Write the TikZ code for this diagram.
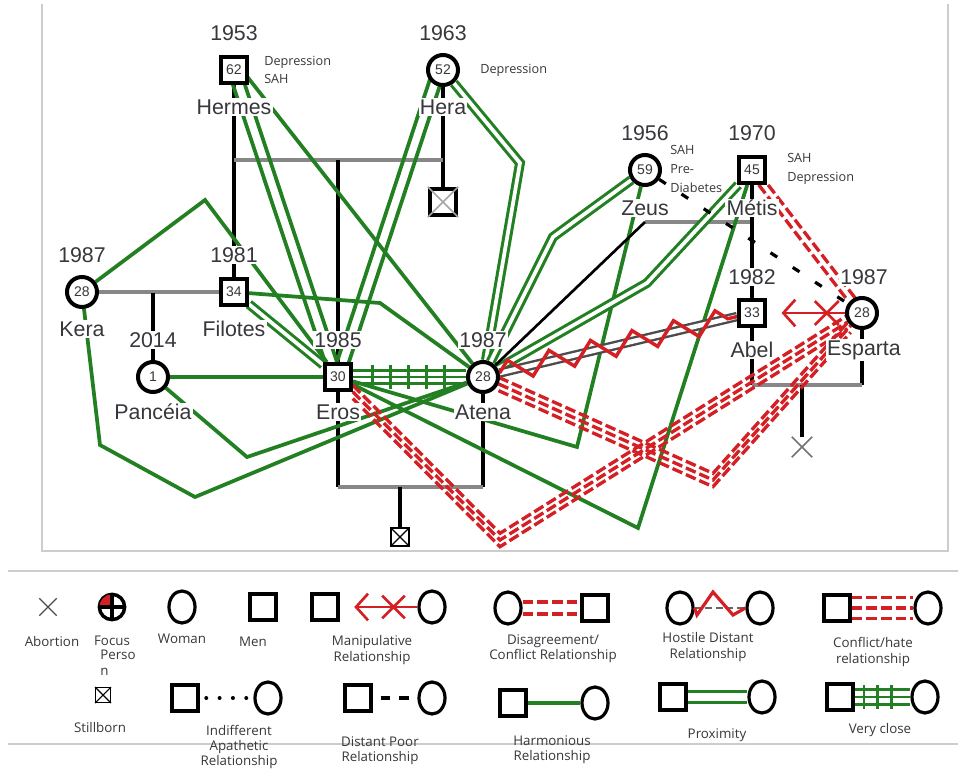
\documentclass[tikz,border=0pt]{standalone}
\usepackage{fontspec}
\setmainfont{Liberation Sans}
\newfontfamily\notefont{Open Sans}
\usetikzlibrary{calc,decorations.markings,decorations.pathmorphing,arrows.meta,shapes.geometric,shapes.misc}
\definecolor{relgreen}{RGB}{34,128,34}
\definecolor{relred}{RGB}{212,32,36}
\definecolor{inkgray}{RGB}{55,55,60}
\definecolor{kingray}{RGB}{135,135,135}
\definecolor{framegray}{RGB}{205,205,205}
\pgfdeclarelayer{links}
\pgfsetlayers{links,main}
\tikzset{
  man/.style={draw,line width=2.8pt,fill=white,minimum size=19.5pt,inner sep=0pt,
    text=inkgray,font=\fontsize{10.5}{10.5}\selectfont},
  woman/.style={circle,draw,line width=3pt,fill=white,minimum size=22.5pt,inner sep=0pt,
    text=inkgray,font=\fontsize{10.5}{10.5}\selectfont},
  lost/.style={draw,fill=white,inner sep=0pt},
  yr/.style={fill=white,inner sep=1pt,text=inkgray,font=\fontsize{16}{18}\selectfont},
  note/.style={anchor=west,align=left,inner sep=0pt,text=inkgray,
    font=\notefont\fontsize{9.5}{14}\selectfont},
  kin/.style={line width=2.9pt},
  marr/.style={kingray,line width=2.9pt},
  harm/.style={relgreen,line width=2.8pt},
  prox/.style={relgreen,line width=2.3pt,double=white,double distance=2.8pt},
  vclose/.style={relgreen,line width=2.1pt,double=white,double distance=8pt},
  vticks/.style={decoration={markings,
      mark=between positions 0.17 and 0.85 step #1 with {\draw[relgreen,line width=2.1pt] (0,-9pt) -- (0,9pt);}},
    postaction={decorate}},
  conflict/.style={relred,line width=2.5pt,dash pattern=on 8pt off 3pt},
  distant/.style={black,line width=2.4pt,dash pattern=on 6pt off 14pt},
  hostbase/.style={black!70,line width=1.8pt,double=white,double distance=3.5pt},
  hostile/.style={relred,line width=2.6pt,decorate,decoration={zigzag,segment length=32pt,amplitude=8pt}},
  manip/.style={relred,line width=2pt,arrows={Straight Barb[length=9pt,width=20pt]-},shorten <=11pt},
  manx/.style={cross out,draw=relred,line width=2pt,minimum size=16pt,inner sep=0pt},
  lman/.style={draw,line width=2.4pt,minimum size=19.5pt,inner sep=0pt},
  lwoman/.style={ellipse,draw,line width=2.4pt,minimum width=19.5pt,minimum height=24pt,inner sep=0pt},
  lgd/.style={align=center,inner sep=0pt,text=inkgray,font=\notefont\fontsize{10}{11.5}\selectfont}
}

\begin{document}
\begin{tikzpicture}[x=0.75pt,y=-0.75pt]
  \useasboundingbox (0,0) rectangle (958,771);
  %
  % Frame of the genogram
  \draw[framegray,line width=1pt] (42,4) -- (42,551) -- (948,551) -- (948,4);
  %
  % People
  \node[man]   (hermes)  at (234,70)  {62};
  \node[woman] (hera)    at (443,70)  {52};
  \node[woman] (kera)    at (82,292)  {28};
  \node[man]   (filotes) at (234,292) {34};
  \node[woman] (panceia) at (153,377) {1};
  \node[man]   (eros)    at (338,377) {30};
  \node[woman] (atena)   at (483,377) {28};
  \node[woman] (zeus)    at (645,170) {59};
  \node[man]   (metis)   at (752,170) {45};
  \node[man]   (abel)    at (752,313) {33};
  \node[woman] (esparta) at (862,313) {28};
  \node[lost,line width=2.8pt,minimum size=20pt] (still1) at (443,202) {};
  \node[lost,line width=1.3pt,minimum size=13pt] (still2) at (400,537) {};
  \node[cross out,draw=black!55,line width=1.3pt,minimum size=14pt,inner sep=0pt] (abort) at (802,447) {};
  \draw[black!35,line width=1.2pt] (still1.north west) -- (still1.south east) (still1.north east) -- (still1.south west);
  \draw[line width=1pt] (still2.north west) -- (still2.south east) (still2.north east) -- (still2.south west);
  %
  % Years and names
  \node[yr] (hermes-y)  at ($(hermes)+(0,-37)$)  {1953};
  \node[yr] (hermes-n)  at ($(hermes)+(0,37)$)   {Hermes};
  \node[yr] (hera-y)    at ($(hera)+(0,-37)$)    {1963};
  \node[yr] (hera-n)    at ($(hera)+(0,37)$)     {Hera};
  \node[yr] (kera-y)    at ($(kera)+(0,-37)$)    {1987};
  \node[yr] (kera-n)    at ($(kera)+(0,37)$)     {Kera};
  \node[yr] (filotes-y) at ($(filotes)+(0,-37)$) {1981};
  \node[yr] (filotes-n) at ($(filotes)+(0,37)$)  {Filotes};
  \node[yr] (panceia-y) at ($(panceia)+(0,-37)$) {2014};
  \node[yr] (panceia-n) at ($(panceia)+(0,35)$)  {Pancéia};
  \node[yr] (eros-y)    at ($(eros)+(0,-37)$)    {1985};
  \node[yr] (eros-n)    at ($(eros)+(0,35)$)     {Eros};
  \node[yr] (atena-y)   at ($(atena)+(0,-37)$)   {1987};
  \node[yr] (atena-n)   at ($(atena)+(0,35)$)    {Atena};
  \node[yr] (zeus-y)    at ($(zeus)+(0,-37)$)    {1956};
  \node[yr] (zeus-n)    at ($(zeus)+(0,38)$)     {Zeus};
  \node[yr] (metis-y)   at ($(metis)+(0,-37)$)   {1970};
  \node[yr] (metis-n)   at ($(metis)+(0,38)$)    {Métis};
  \node[yr] (abel-y)    at ($(abel)+(0,-36)$)    {1982};
  \node[yr] (abel-n)    at ($(abel)+(0,37)$)     {Abel};
  \node[yr] (esparta-y) at ($(esparta)+(2,-36)$) {1987};
  \node[yr] (esparta-n) at ($(esparta)+(2,37)$)  {Esparta};
  %
  % Health notes
  \node[note] (hermes-d)  at (264,70)  {Depression\\SAH};
  \node[note] (hera-d)    at (480,70)  {Depression};
  \node[note] (zeus-d)    at (670,169) {SAH\\Pre-\\Diabetes};
  \node[note] (metis-d)   at (787,169) {SAH\\Depression};
  %
  \coordinate (hh) at (338,160);
  \coordinate (kf) at (153,293);
  \coordinate (ea) at (400,487);
  \coordinate (zm) at (700,222);
  \coordinate (ae) at (802,385);
  %
  \begin{pgfonlayer}{links}
    % Family lines
    \draw[kin] (hermes) -- (filotes);
    \draw[kin] (hera) -- (still1);
    \draw[marr] (hermes |- hh) -- (hera |- hh);
    \draw[kin] (hh) -- (eros);
    \draw[marr] (kera) -- (filotes);
    \draw[kin] (kf) -- (panceia);
    \draw[kin] (eros) -- (eros |- ea);
    \draw[kin] (atena) -- (atena |- ea);
    \draw[marr] (eros |- ea) -- (atena |- ea);
    \draw[kin] (ea) -- (still2);
    \draw[marr] (zeus |- zm) -- (metis |- zm);
    \draw[kin] (metis) -- (abel);
    \draw[kin] (abel) -- (abel |- ae);
    \draw[kin] (esparta) -- (esparta |- ae);
    \draw[marr] (abel |- ae) -- (esparta |- ae);
    \draw[kin] (ae) -- (abort);
    %
    % Very close
    \draw[vclose] (eros) -- (atena);
    \draw[harm,line width=2.1pt,vticks=0.16] (eros) -- (atena);
    %
    % Harmonious and proximity
    \draw[harm] (kera) -- (205,200) -- (eros);
    \draw[harm] (kera) -- (100,445) -- (195,497) -- (atena);
    \draw[harm] (panceia) -- (eros);
    \draw[harm] (panceia) -- (247,457) -- (atena);
    \draw[harm] ($(hermes)+(-6,0)$) -- ($(eros)+(-8,0)$);
    \draw[harm] ($(hermes)+(6,0)$) -- ($(eros)+(4,0)$);
    \draw[harm] ($(hermes)+(8,0)$) -- (atena);
    \draw[harm] ($(hera)+(-10,0)$) -- ($(eros)+(-6,0)$);
    \draw[harm] ($(hera)+(2,0)$) -- ($(eros)+(6,0)$);
    \draw[prox] (hera) -- (520,163) -- (atena);
    \draw[prox] (filotes) -- (eros);
    \draw[harm] (filotes) -- (380,303) -- (atena);
    \draw[harm] (eros) -- (577,447) -- (zeus);
    \draw[harm] (eros) -- (638,528) -- (metis);
    \draw[prox] (atena) -- (553,237) -- (zeus);
    \draw[prox] (atena) -- (647,283) -- (metis);
    \draw[black,line width=2pt] (atena) -- (zeus |- zm);
    %
    % Hostile distant
    \draw[hostbase] (atena) -- (abel);
    \draw[hostile] (atena) -- (abel);
    %
    % Conflict and disagreement
    \foreach \s in {-5,0,5}{
      \draw[conflict,transform canvas={yshift=\s*1pt}] (eros) -- (500,540) -- (esparta);
      \draw[conflict,transform canvas={yshift=\s*1pt}] (atena) -- (713,480) -- (esparta);
    }
    \foreach \s in {-3.5,3.5}
      \draw[conflict,transform canvas={xshift=\s*1pt}] (metis) -- (esparta);
    \draw[distant] (zeus) -- (esparta);
  \end{pgfonlayer}
  %
  % Manipulative
  \draw[manip] (abel) -- (esparta);
  \node[manx] (mx) at ($(abel)!0.68!(esparta)$) {};
  %
  % Legend
  \draw[framegray,line width=1.2pt] (8,571) -- (958,571);
  \draw[framegray,line width=1.2pt] (8,744) -- (958,744);
  %
  \node[cross out,draw=black!70,line width=1pt,minimum size=12pt,inner sep=0pt] (lg-abort) at (48,607) {};
  \node[lgd] (lg-abort-t) at (52,641) {Abortion};
  %
  \node[circle,draw,line width=2.6pt,minimum size=19pt,inner sep=0pt] (lg-focus) at (112,607) {};
  \fill[relred] (lg-focus.center) -- ++(-12.6,0) arc[start angle=180,end angle=90,radius=9.5pt] -- cycle;
  \draw[line width=2.4pt] (lg-focus.north) -- (lg-focus.south) (lg-focus.west) -- (lg-focus.east);
  \node[lgd] (lg-focus-t) at (112,641) {Focus};
  \node[lgd,align=left,anchor=north west] (lg-focus-t2) at (100,650) {Perso\\n};
  %
  \node[lwoman] (lg-woman) at (182,607) {};
  \node[lgd] (lg-woman-t) at (182,639) {Woman};
  \node[lman] (lg-man) at (263,607) {};
  \node[lgd] (lg-man-t) at (253,642) {Men};
  %
  \node[lman] (lg-m1) at (325,607) {};
  \node[lwoman] (lg-m2) at (432,607) {};
  \draw[manip] (lg-m1) -- (lg-m2);
  \node[manx,minimum size=15pt] (lg-mx) at ($(lg-m1)!0.64!(lg-m2)$) {};
  \node[lgd] (lg-m-t) at (372,650) {Manipulative\\Relationship};
  %
  \node[lwoman] (lg-d1) at (508,608) {};
  \node[lman] (lg-d2) at (595,608) {};
  \foreach \s in {-4.5,4.5}
    \draw[conflict,transform canvas={yshift=\s*1pt}] (lg-d1) -- (lg-d2);
  \node[lgd] (lg-d-t) at (553,649) {Disagreement/\\Conflict Relationship};
  %
  \node[lwoman] (lg-h1) at (680,608) {};
  \node[lwoman] (lg-h2) at (760,608) {};
  \draw[black!60,line width=1.6pt,dash pattern=on 5pt off 3pt] (lg-h1) -- (lg-h2);
  \draw[relred,line width=2.4pt] (lg-h1.east) -- (697,615) -- (713,592) -- (733,615) -- (lg-h2.west);
  \node[lgd] (lg-h-t) at (708,647) {Hostile Distant\\Relationship};
  %
  \node[lman] (lg-c1) at (837,608) {};
  \node[lwoman] (lg-c2) at (928,608) {};
  \foreach \s in {-8,0,8}
    \draw[conflict,transform canvas={yshift=\s*1pt}] (lg-c1) -- (lg-c2);
  \node[lgd] (lg-c-t) at (873,652) {Conflict/hate\\relationship};
  %
  \node[draw,line width=1pt,minimum size=11pt,inner sep=0pt] (lg-still) at (103,695) {};
  \draw[line width=0.8pt] (lg-still.north west) -- (lg-still.south east) (lg-still.north east) -- (lg-still.south west);
  \node[lgd] (lg-still-t) at (100,727) {Stillborn};
  %
  \node[lman] (lg-i1) at (185,698) {};
  \node[lwoman] (lg-i2) at (268,698) {};
  \draw[line width=3pt,line cap=round,dash pattern=on 0pt off 10pt,dash phase=-5pt] (lg-i1) -- (lg-i2);
  \node[lgd] (lg-i-t) at (239,747) {Indifferent\\Apathetic\\Relationship};
  %
  \node[lman] (lg-p1) at (358,698) {};
  \node[lwoman] (lg-p2) at (432,698) {};
  \draw[line width=2.4pt,dash pattern=on 7pt off 7pt,dash phase=-6pt] (lg-p1) -- (lg-p2);
  \node[lgd] (lg-p-t) at (380,751) {Distant Poor\\Relationship};
  %
  \node[lman] (lg-a1) at (513,703) {};
  \node[lwoman] (lg-a2) at (595,703) {};
  \draw[harm] (lg-a1) -- (lg-a2);
  \node[lgd] (lg-a-t) at (552,750) {Harmonious\\Relationship};
  %
  \node[lman] (lg-x1) at (673,697) {};
  \node[lwoman] (lg-x2) at (762,697) {};
  \draw[prox,double distance=6.5pt] (lg-x1) -- (lg-x2);
  \node[lgd] (lg-x-t) at (717,735) {Proximity};
  %
  \node[lman] (lg-v1) at (840,697) {};
  \node[lwoman] (lg-v2) at (925,697) {};
  \draw[vclose,double distance=9pt] (lg-v1) -- (lg-v2);
  \draw[harm,line width=2.1pt,vticks=0.245] (lg-v1) -- (lg-v2);
  \node[lgd] (lg-v-t) at (880,730) {Very close};
\end{tikzpicture}
\end{document}
